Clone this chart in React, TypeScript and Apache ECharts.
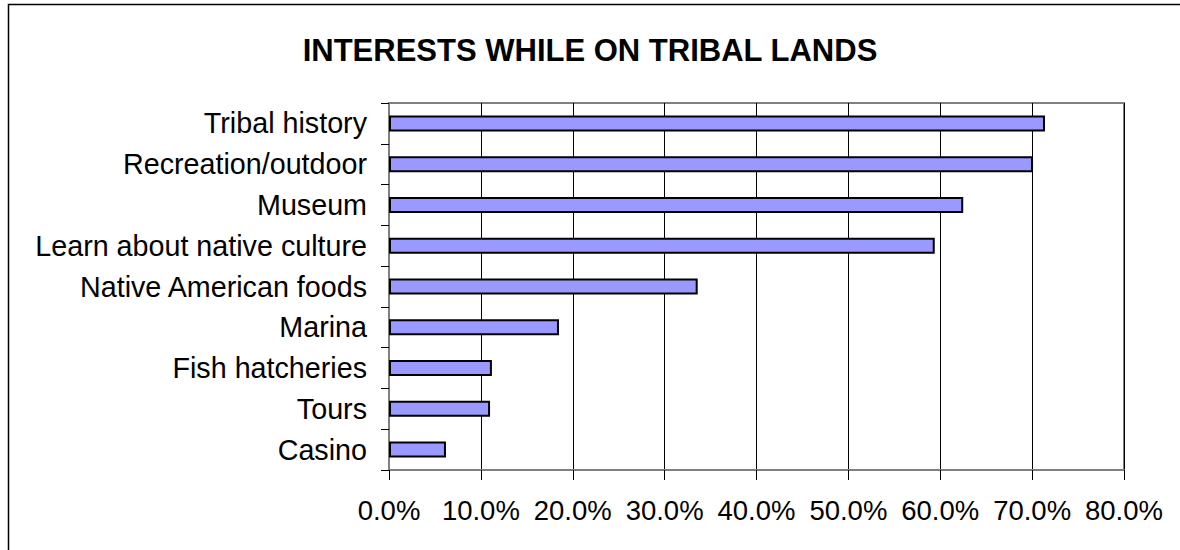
import React, { useEffect, useRef } from "react";
import * as echarts from "echarts";

const titleText = "INTERESTS WHILE ON TRIBAL LANDS";
const categories = [
  "Tribal history",
  "Recreation/outdoor",
  "Museum",
  "Learn about native culture",
  "Native American foods",
  "Marina",
  "Fish hatcheries",
  "Tours",
  "Casino",
];
const values = [0.714, 0.701, 0.625, 0.594, 0.336, 0.185, 0.112, 0.11, 0.062];
const axisMin = 0;
const axisMax = 0.8;
const axisStep = 0.1;

export default function App() {
  const ref = useRef<HTMLDivElement>(null);
  useEffect(() => {
    if (!ref.current) return;
    const chart = echarts.init(ref.current, null, { renderer: "svg" });
    const font = "Arial, 'Liberation Sans', sans-serif";
    chart.setOption({
      animation: false,
      backgroundColor: "#fff",
      title: {
        text: titleText,
        left: "center",
        top: 30,
        textStyle: { fontFamily: font, fontWeight: "bold", fontSize: 31, color: "#000" },
      },
      graphic: [
        {
          type: "rect",
          shape: { x: 8.5, y: 4.5, width: 1300, height: 700 },
          style: { fill: "none", stroke: "#000", lineWidth: 1.5 },
          silent: true,
        },
      ],
      grid: {
        left: 389,
        top: 103,
        width: 735,
        height: 367,
        show: true,
        borderColor: "#808080",
        borderWidth: 2,
        backgroundColor: "transparent",
      },
      xAxis: {
        type: "value",
        min: axisMin,
        max: axisMax,
        interval: axisStep,
        axisLine: { show: true, lineStyle: { color: "#808080", width: 2 } },
        axisTick: { show: true, length: 10, lineStyle: { color: "#000", width: 1 } },
        axisLabel: {
          margin: 26,
          fontFamily: font,
          fontSize: 27.5,
          color: "#000",
          formatter: (v: number) => (v * 100).toFixed(1) + "%",
        },
        splitLine: { show: true, lineStyle: { color: "#000", width: 1 } },
      },
      yAxis: {
        type: "category",
        data: categories,
        inverse: true,
        axisLine: { show: true, lineStyle: { color: "#808080", width: 2 } },
        axisTick: { show: true, length: 8, lineStyle: { color: "#000", width: 1 } },
        axisLabel: { margin: 22, fontFamily: font, fontSize: 28.7, color: "#000" },
        splitLine: { show: false },
      },
      series: [
        {
          type: "bar",
          data: values,
          barWidth: 16,
          itemStyle: { color: "#9999FF", borderColor: "#000", borderWidth: 2 },
        },
      ],
    });
    return () => chart.dispose();
  }, []);
  return (
    <div
      ref={ref}
      style={{ position: "absolute", left: 0, top: 0, width: 1180, height: 550, background: "#fff" }}
    />
  );
}
